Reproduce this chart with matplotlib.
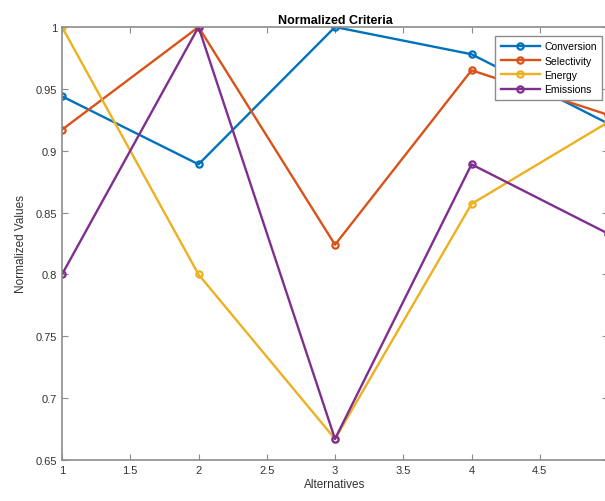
import matplotlib.pyplot as plt
import numpy as np

plt.rcParams['font.family'] = ['Liberation Sans', 'DejaVu Sans']

alternatives = [1, 2, 3, 4, 5]
conversion = [0.944, 0.889, 1.0, 0.978, 0.922]
selectivity = [0.917, 1.0, 0.824, 0.965, 0.929]
energy = [1.0, 0.8, 0.667, 0.857, 0.923]
emissions = [0.8, 1.0, 0.667, 0.889, 0.833]

series = [("Conversion", conversion, "#0072BD"),
          ("Selectivity", selectivity, "#D95319"),
          ("Energy", energy, "#EDB120"),
          ("Emissions", emissions, "#7E2F8E")]

fig = plt.figure(figsize=(6.05, 5.02), dpi=100)
ax = fig.add_axes([0.1025, 0.0817, 0.9025, 0.8625])

for name, vals, col in series:
    ax.plot(alternatives, vals, color=col, lw=1.7, marker='o', ms=4.5,
            mfc='none', mew=1.6, label=name)

ax.set_xlim(1, 5)
ax.set_ylim(0.65, 1.0)
ax.set_xticks(np.arange(1, 5.01, 0.5))
ax.set_xticklabels(['1', '1.5', '2', '2.5', '3', '3.5', '4', '4.5', '5'])
ax.set_yticks(np.arange(0.65, 1.001, 0.05))
ax.set_yticklabels(['0.65', '0.7', '0.75', '0.8', '0.85', '0.9', '0.95', '1'])

gray = '#333333'
for sp in ax.spines.values():
    sp.set_color('#8c8c8c')
    sp.set_linewidth(1.2)
ax.tick_params(direction='in', top=True, right=True, length=4, width=0.8,
               colors='#8c8c8c', labelcolor=gray, labelsize=8)

ax.set_title("Normalized Criteria", fontsize=9, fontweight='bold', pad=3)
ax.set_xlabel("Alternatives", fontsize=8.5, color=gray, labelpad=2)
ax.set_ylabel("Normalized Values", fontsize=8.5, color=gray, labelpad=6)

leg = ax.legend(loc='upper right', bbox_to_anchor=(0.989, 0.979), fontsize=7.5,
                fancybox=False, framealpha=1, edgecolor='#8c8c8c',
                handlelength=3.8, handletextpad=0.4, labelspacing=0.42,
                borderpad=0.5, borderaxespad=0)
leg.get_frame().set_linewidth(1.0)

fig.savefig("out.png", dpi=100)
